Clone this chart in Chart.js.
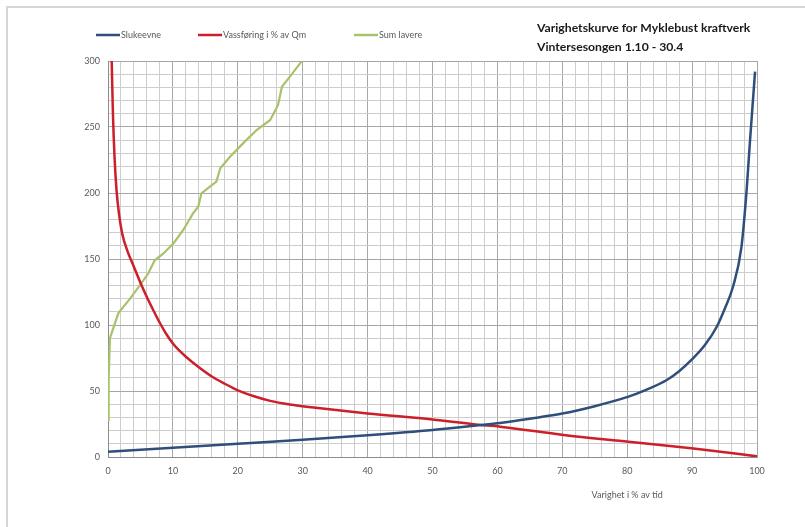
<!DOCTYPE html>
<html>
<head>
<meta charset="utf-8">
<script src="https://cdn.jsdelivr.net/npm/chart.js@4.4.1/dist/chart.umd.min.js"></script>
<style>
  html, body { margin: 0; padding: 0; background: #ffffff; }
  #wrap { position: relative; width: 805px; height: 527px; }
</style>
</head>
<body>
<div id="wrap"><canvas id="c" width="805" height="527"></canvas></div>
<script>
// ---- Data ----
const seriesNames = ["Slukeevne", "Vassføring i % av Qm", "Sum lavere"];
const chartTitle = ["Varighetskurve for Myklebust kraftverk", "Vintersesongen 1.10 - 30.4"];
const xAxisTitle = "Varighet i % av tid";

const slukeX = [0, 10, 20, 30, 40, 50, 57, 60.4, 65, 70.2, 75, 80.2, 83, 86.1, 88, 89.9, 92, 93.8, 95, 96.3, 97.6, 98.4, 98.9, 99.3, 99.7];
const slukeY = [4, 7, 10, 13, 16.5, 20.5, 24, 25.8, 29, 33.1, 38.5, 45.7, 51, 58.3, 65, 73.5, 85, 98.7, 112, 129, 159, 202, 238, 265, 292];

const vassX = [0.57, 0.75, 1.0, 1.3, 1.7, 2.2, 3.0, 4.0, 5.0, 6.0, 7.0, 8.0, 9.0, 10.0, 11.0, 12.0, 14.0, 16.0, 18.0, 20.0, 22.5, 25.0, 28.0, 32.0, 40, 50, 57, 60.4, 70.2, 80.2, 89.9, 100];
const vassY = [300, 262, 228, 203, 184, 169, 156, 144, 132, 121, 111, 101.5, 93, 86, 80.5, 76, 68, 61, 55.5, 50.5, 46, 42.5, 39.8, 37.3, 33, 28.4, 24.5, 23, 16.7, 11.6, 6.6, 0.5];

const sumX = [0, 0.1, 0.3, 1.6, 3.4, 4.9, 6.2, 7.2, 8.5, 10.1, 11.6, 13.1, 13.9, 14.4, 15.7, 16.7, 17.3, 18.8, 20.8, 22.9, 25.0, 26.2, 26.8, 28.0, 29.8];
const sumY = [28, 60, 90, 109, 120, 130, 139, 149, 154, 162, 172, 184.6, 189.6, 199.8, 204.8, 208.6, 218.7, 227.5, 237.6, 247.7, 255.3, 266.7, 280.5, 288, 299.5];

const xTickMajor = 10, xTickMinor = 2;
const yTickMajor = 50, yTickMinor = 10;
const xMin = 0, xMax = 100, yMin = 0, yMax = 300;

// ---- styling ----
const colors = ["#2f4e79", "#cc1f29", "#a8c26a"];
const FONT = "Lato, 'Open Sans', sans-serif";

function pts(xs, ys) { return xs.map((x, i) => ({ x: x, y: ys[i] })); }

const decor = {
  id: 'decor',
  beforeDraw(chart) {
    const ctx = chart.ctx;
    ctx.save();
    ctx.fillStyle = '#ffffff';
    ctx.fillRect(0, 0, chart.width, chart.height);
    ctx.strokeStyle = '#d6d6d6';
    ctx.lineWidth = 2;
    ctx.beginPath();
    ctx.moveTo(7, chart.height);
    ctx.lineTo(7, 7);
    ctx.lineTo(chart.width, 7);
    ctx.stroke();
    ctx.restore();
  },
  afterDraw(chart) {
    const ctx = chart.ctx;
    ctx.save();
    // legend
    const legX = [96, 198, 354];
    const legY = 35;
    ctx.font = "9px " + FONT;
    ctx.textBaseline = 'middle';
    ctx.textAlign = 'left';
    seriesNames.forEach((n, i) => {
      ctx.strokeStyle = colors[i];
      ctx.lineWidth = 2.5;
      ctx.beginPath();
      ctx.moveTo(legX[i], legY);
      ctx.lineTo(legX[i] + 24, legY);
      ctx.stroke();
      ctx.fillStyle = '#595959';
      ctx.fillText(n, legX[i] + 25, legY);
    });
    // title
    ctx.fillStyle = '#1a1a1a';
    ctx.font = "bold 12.2px " + FONT;
    ctx.fillText(chartTitle[0], 537, 28);
    ctx.fillText(chartTitle[1], 537, 47);
    // x axis title
    const xs = chart.scales.x;
    ctx.font = "9px " + FONT;
    ctx.fillStyle = '#595959';
    ctx.textAlign = 'center';
    ctx.fillText(xAxisTitle, xs.getPixelForValue(80), 495);
    ctx.restore();
  }
};

new Chart(document.getElementById('c'), {
  type: 'scatter',
  data: {
    datasets: [
      { label: seriesNames[0], data: pts(slukeX, slukeY), borderColor: colors[0], backgroundColor: colors[0],
        showLine: true, pointRadius: 0, borderWidth: 2.5, cubicInterpolationMode: 'monotone' },
      { label: seriesNames[1], data: pts(vassX, vassY), borderColor: colors[1], backgroundColor: colors[1],
        showLine: true, pointRadius: 0, borderWidth: 2.5, cubicInterpolationMode: 'monotone' },
      { label: seriesNames[2], data: pts(sumX, sumY), borderColor: colors[2], backgroundColor: colors[2],
        showLine: true, pointRadius: 0, borderWidth: 2.2, tension: 0 }
    ]
  },
  options: {
    responsive: false,
    animation: false,
    clip: true,
    layout: { padding: { left: 0, right: 48, top: 61, bottom: 0 } },
    plugins: { legend: { display: false }, title: { display: false }, tooltip: { enabled: false } },
    scales: {
      x: {
        type: 'linear', min: xMin, max: xMax,
        afterFit(s) { s.height = 70; },
        border: { display: true, color: '#8c8c8c', width: 1 },
        grid: {
          drawTicks: false,
          color: c => (c.tick && c.tick.value % xTickMajor === 0) ? '#a6a6a6' : '#cdcdcd',
          lineWidth: 1
        },
        ticks: {
          stepSize: xTickMinor, autoSkip: false, maxRotation: 0, padding: 9,
          color: '#595959', font: { family: FONT, size: 9 },
          callback: v => (v % xTickMajor === 0 ? String(v) : '')
        }
      },
      y: {
        type: 'linear', min: yMin, max: yMax,
        afterFit(s) { s.width = 108; },
        border: { display: true, color: '#8c8c8c', width: 1 },
        grid: {
          drawTicks: false,
          color: c => (c.tick && c.tick.value % yTickMajor === 0) ? '#a6a6a6' : '#cdcdcd',
          lineWidth: 1
        },
        ticks: {
          stepSize: yTickMinor, autoSkip: false, padding: 8,
          color: '#595959', font: { family: FONT, size: 9 },
          callback: v => (v % yTickMajor === 0 ? String(v) : '')
        }
      }
    }
  },
  plugins: [decor]
});
</script>
</body>
</html>
